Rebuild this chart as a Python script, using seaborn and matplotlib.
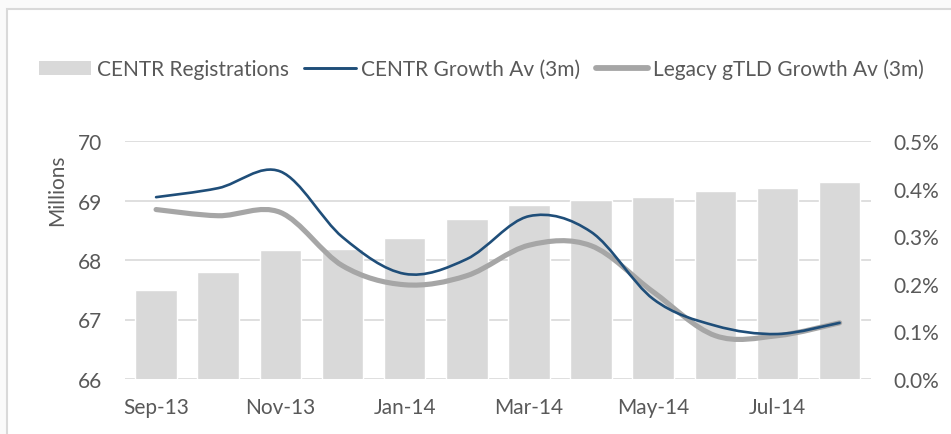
import numpy as np
import pandas as pd
import matplotlib
matplotlib.use("Agg")
import matplotlib.pyplot as plt
from matplotlib.path import Path
from matplotlib.patches import PathPatch, Rectangle, Patch
from matplotlib.lines import Line2D
import seaborn as sns

months = ["Sep-13", "Oct-13", "Nov-13", "Dec-13", "Jan-14", "Feb-14",
          "Mar-14", "Apr-14", "May-14", "Jun-14", "Jul-14", "Aug-14"]
registrations = [67.50, 67.79, 68.16, 68.18, 68.37, 68.69,
                 68.92, 69.01, 69.06, 69.16, 69.21, 69.31]
centr_growth = [0.382, 0.401, 0.436, 0.298, 0.221, 0.252,
                0.342, 0.309, 0.168, 0.112, 0.0945, 0.118]
legacy_growth = [0.356, 0.343, 0.350, 0.238, 0.198, 0.217,
                 0.281, 0.280, 0.183, 0.091, 0.091, 0.118]
left_ticks = [66, 67, 68, 69, 70]
right_ticks = [0.0, 0.1, 0.2, 0.3, 0.4, 0.5]

sns.set_theme(style="white")
plt.rcParams["font.family"] = ["Lato", "DejaVu Sans"]
TXT = "#595959"
GRID = "#d9d9d9"
BAR = "#d9d9d9"
BLUE = "#1f4e79"
GREY = "#a6a6a6"
FS = 15

W, H = 951, 435
fig = plt.figure(figsize=(W / 100, H / 100), dpi=100)
fig.patch.set_facecolor("#fafafa")
frame = Rectangle((7 / W, -0.1), 1.1, 1 - 10 / H + 0.1,
                  transform=fig.transFigure, facecolor="white",
                  edgecolor="#d9d9d9", lw=1.5, zorder=-10)
fig.patches.append(frame)

L, R, T, B = 125, 870.7, 142, 380
ax = fig.add_axes([L / W, 1 - B / H, (R - L) / W, (B - T) / H])
ax.set_facecolor("none")

df = pd.DataFrame({"month": months, "reg": registrations})
sns.barplot(data=df, x="month", y="reg", color=BAR, width=0.67,
            saturation=1, ax=ax, zorder=2)
ax.set_xlim(-0.5, len(months) - 0.5)
ax.set_ylim(66, 70)
ax.set_yticks(left_ticks)
ax.set_yticklabels([str(t) for t in left_ticks])
ax.set_xticks(range(0, len(months), 2))
ax.set_xticklabels(months[::2])
ax.grid(axis="y", color=GRID, lw=1.2, zorder=0)
ax.set_axisbelow(True)
for s in ax.spines.values():
    s.set_visible(False)
ax.tick_params(axis="both", length=0, colors=TXT, labelsize=FS)
ax.tick_params(axis="y", pad=16.5)
ax.tick_params(axis="x", pad=13)
ax.set_xlabel("")
ax.set_ylabel("")

ax2 = ax.twinx()
ax2.set_ylim(0, 0.5)
ax2.set_yticks(right_ticks)
ax2.set_yticklabels([f"{t:.1f}%" for t in right_ticks])
for s in ax2.spines.values():
    s.set_visible(False)
ax2.tick_params(axis="y", length=0, colors=TXT, labelsize=FS, pad=16)
ax2.grid(False)


def smooth_path(xs, ys):
    pts = np.column_stack([xs, ys]).astype(float)
    n = len(pts)
    verts = [pts[0]]
    codes = [Path.MOVETO]
    for i in range(n - 1):
        p0 = pts[i - 1] if i > 0 else pts[i]
        p1 = pts[i]
        p2 = pts[i + 1]
        p3 = pts[i + 2] if i + 2 < n else pts[i + 1]
        c1 = p1 + (p2 - p0) / 6.0
        c2 = p2 - (p3 - p1) / 6.0
        verts += [c1, c2, p2]
        codes += [Path.CURVE4] * 3
    return Path(verts, codes)


xs = np.arange(len(months))
ax2.add_patch(PathPatch(smooth_path(xs, legacy_growth), facecolor="none",
                        edgecolor=GREY, lw=3.7, capstyle="round",
                        joinstyle="round", zorder=3))
ax2.add_patch(PathPatch(smooth_path(xs, centr_growth), facecolor="none",
                        edgecolor=BLUE, lw=1.9, capstyle="round",
                        joinstyle="round", zorder=4))

fig.text(57 / W, 1 - 190 / H, "Millions", rotation=90, ha="center",
         va="center", color=TXT, fontsize=FS)

handles = [Patch(facecolor=BAR, edgecolor="none"),
           Line2D([], [], color=BLUE, lw=2.1),
           Line2D([], [], color=GREY, lw=4.2, solid_capstyle="round")]
labels = ["CENTR Registrations", "CENTR Growth Av (3m)",
          "Legacy gTLD Growth Av (3m)"]
fig.legend(handles, labels, loc="center left", ncol=3,
           bbox_to_anchor=(39 / W, 1 - 70 / H), frameon=False,
           fontsize=FS, labelcolor=TXT, handlelength=2.5,
           handleheight=0.67, handletextpad=0.27, columnspacing=0.72,
           borderaxespad=0, borderpad=0)

fig.savefig("out.png", dpi=100, facecolor=fig.get_facecolor())
